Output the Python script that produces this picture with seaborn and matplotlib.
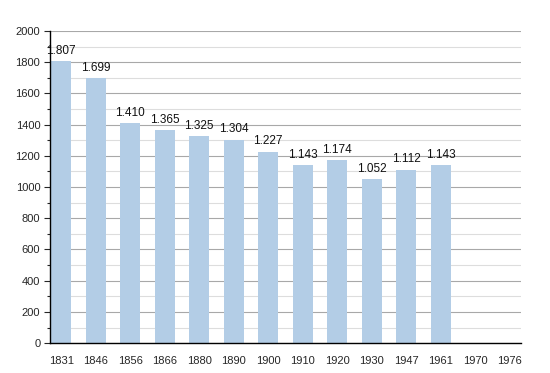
import matplotlib
matplotlib.use("Agg")
import matplotlib.pyplot as plt
from matplotlib.ticker import MultipleLocator
import pandas as pd
import seaborn as sns

years = ["1831", "1846", "1856", "1866", "1880", "1890", "1900",
         "1910", "1920", "1930", "1947", "1961", "1970", "1976"]
pop_years = ["1831", "1846", "1856", "1866", "1880", "1890", "1900",
             "1910", "1920", "1930", "1947", "1961"]
population = [1807, 1699, 1410, 1365, 1325, 1304, 1227,
              1143, 1174, 1052, 1112, 1143]

BAR_COLOR = "#b3cde6"

sns.set_theme(style="white")
plt.rcParams["font.family"] = ["Liberation Sans", "DejaVu Sans"]

df = pd.DataFrame({"year": pop_years, "population": population})

fig = plt.figure(figsize=(5.5, 3.73), dpi=100)
ax = fig.add_axes([0.091, 0.080, 0.856, 0.837])

sns.barplot(data=df, x="year", y="population", order=years,
            color=BAR_COLOR, saturation=1, width=0.58, linewidth=0, ax=ax)

for patch in ax.patches:
    patch.set_zorder(3)

for cont in ax.containers:
    labels = [f"{v:,.0f}".replace(",", ".") for v in cont.datavalues]
    ax.bar_label(cont, labels=labels, padding=3, fontsize=8.5, color="#111111",
                 zorder=4)

ax.set_ylim(0, 2000)
ax.set_xlim(-0.32, 13.32)
ax.yaxis.set_major_locator(MultipleLocator(200))
ax.yaxis.set_minor_locator(MultipleLocator(100))
ax.grid(which="major", axis="y", color="#a8a8a8", linewidth=0.8, zorder=0)
ax.grid(which="minor", axis="y", color="#dddddd", linewidth=0.8, zorder=0)
ax.set_axisbelow(True)

for side in ["top", "right"]:
    ax.spines[side].set_visible(False)
for side in ["left", "bottom"]:
    ax.spines[side].set_color("black")
    ax.spines[side].set_linewidth(1.0)
    ax.spines[side].set_zorder(5)

ax.tick_params(axis="y", which="major", left=True, length=4, width=0.8,
               labelsize=8, pad=3)
ax.tick_params(axis="y", which="minor", left=True, length=2, width=0.8)
ax.tick_params(axis="x", bottom=False, labelsize=8, pad=3)
ax.set_xlabel("")
ax.set_ylabel("")

fig.savefig("out.png", dpi=100)
